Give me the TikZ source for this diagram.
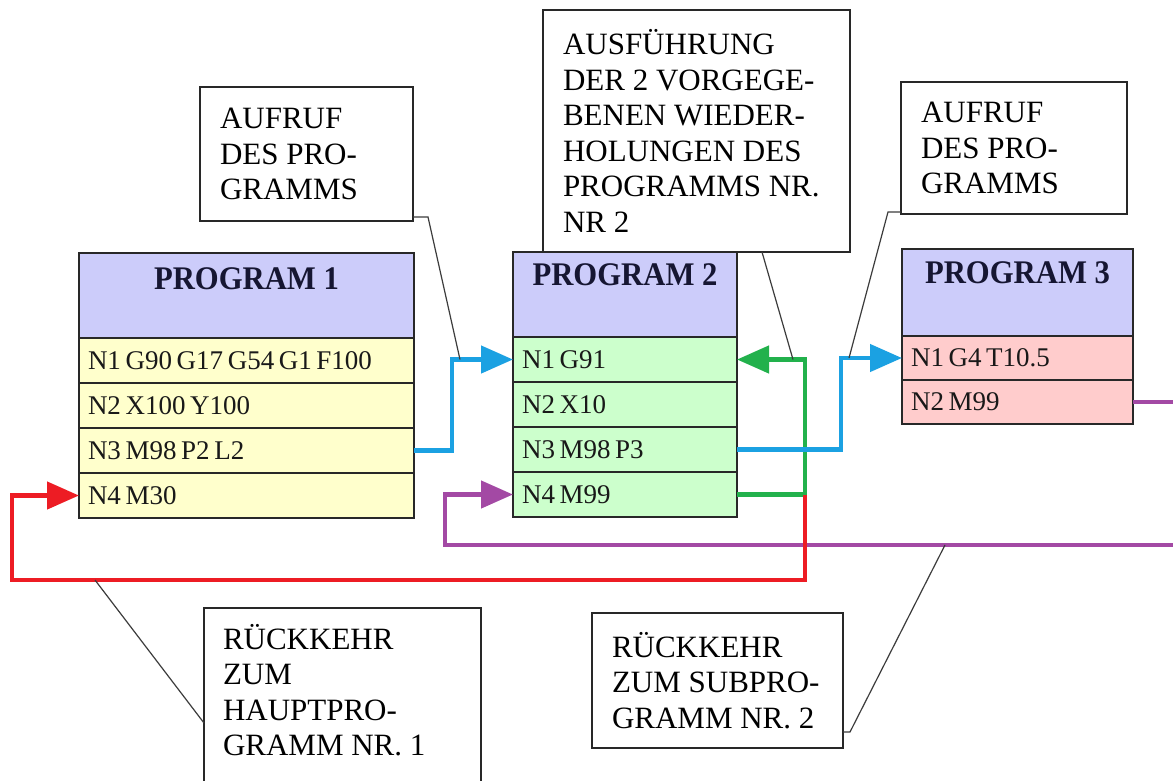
\documentclass[tikz,border=0pt]{standalone}
\usepackage{fontspec}
\setmainfont{Liberation Serif}
\newfontfamily\headfont[FakeStretch=0.93]{Liberation Serif}
\usetikzlibrary{arrows.meta}

% narrower word spaces for the program lines
\newcommand\tightspaces{\spaceskip=4.6pt plus 1pt\relax}

\definecolor{hdfill}{RGB}{204,204,250}
\definecolor{yelfill}{RGB}{255,255,204}
\definecolor{grnfill}{RGB}{204,255,204}
\definecolor{pnkfill}{RGB}{255,204,204}
\definecolor{cblue}{RGB}{27,161,226}
\definecolor{cgreen}{RGB}{34,177,76}
\definecolor{cred}{RGB}{237,28,36}
\definecolor{cpurple}{RGB}{163,73,164}
\definecolor{edgecol}{RGB}{40,40,40}
\definecolor{headink}{RGB}{22,22,50}
\definecolor{leadcol}{RGB}{60,60,60}

\begin{document}
\begin{tikzpicture}[x=1pt,y=-1pt,
  every node/.style={inner sep=0pt, outer sep=0pt},
  boxhead/.style={draw=edgecol, line width=1.4pt, fill=hdfill, anchor=north west, minimum height=85pt},
  headtext/.style={anchor=base, text=headink, font=\headfont\bfseries\fontsize{33}{33}\selectfont},
  rowbox/.style={draw=edgecol, line width=1.4pt, anchor=north west, minimum height=45pt},
  p1row/.style={rowbox, fill=yelfill, minimum width=335pt},
  p2row/.style={rowbox, fill=grnfill, minimum width=224pt},
  p3row/.style={rowbox, fill=pnkfill, minimum width=231pt, minimum height=44pt},
  rowtext/.style={anchor=west, font=\fontsize{27}{27}\selectfont, text=black!90},
  callout/.style={draw=edgecol, line width=1.3pt, fill=white, anchor=north west},
  calltext/.style={anchor=west, align=left, font=\fontsize{31}{35.5}\selectfont},
  conn/.style={line width=4.5pt},
  tip/.style={-{Triangle[length=32pt,width=27pt]}},
  leader/.style={draw=leadcol, line width=1.2pt}
]
\useasboundingbox (0,0) rectangle (1173,780);
\fill[white] (0,0) rectangle (1173,780);
\clip (0,0) rectangle (1173,780);

% ---- main program ----
\node[boxhead, minimum width=335pt] (p1h) at (79,253) {};
\node[headtext] (p1t) at (246.5,289) {PROGRAM 1};
\node[p1row] (p1r1) at (p1h.south west) {};
\node[p1row] (p1r2) at (p1r1.south west) {};
\node[p1row] (p1r3) at (p1r2.south west) {};
\node[p1row] (p1r4) at (p1r3.south west) {};
\node[rowtext] (p1l1) at ([xshift=9pt]p1r1.west) {\tightspaces N1 G90 G17 G54 G1 F100};
\node[rowtext] (p1l2) at ([xshift=9pt]p1r2.west) {\tightspaces N2 X100 Y100};
\node[rowtext] (p1l3) at ([xshift=9pt]p1r3.west) {\tightspaces N3 M98 P2 L2};
\node[rowtext] (p1l4) at ([xshift=9pt]p1r4.west) {\tightspaces N4 M30};

% ---- subprogram 2 ----
\node[boxhead, minimum width=224pt] (p2h) at (513,252) {};
\node[headtext] (p2t) at (625,285) {PROGRAM 2};
\node[p2row] (p2r1) at (p2h.south west) {};
\node[p2row] (p2r2) at (p2r1.south west) {};
\node[p2row] (p2r3) at (p2r2.south west) {};
\node[p2row] (p2r4) at (p2r3.south west) {};
\node[rowtext] (p2l1) at ([xshift=9pt]p2r1.west) {\tightspaces N1 G91};
\node[rowtext] (p2l2) at ([xshift=9pt]p2r2.west) {\tightspaces N2 X10};
\node[rowtext] (p2l3) at ([xshift=9pt]p2r3.west) {\tightspaces N3 M98 P3};
\node[rowtext] (p2l4) at ([xshift=9pt]p2r4.west) {\tightspaces N4 M99};

% ---- subprogram 3 ----
\node[boxhead, minimum width=231pt, minimum height=87pt] (p3h) at (902,249) {};
\node[headtext] (p3t) at (1017.5,283) {PROGRAM 3};
\node[p3row] (p3r1) at (p3h.south west) {};
\node[p3row] (p3r2) at (p3r1.south west) {};
\node[rowtext] (p3l1) at ([xshift=9pt]p3r1.west) {\tightspaces N1 G4 T10.5};
\node[rowtext] (p3l2) at ([xshift=9pt]p3r2.west) {\tightspaces N2 M99};

% ---- program flow ----
\coordinate (rl) at (12,580);
\coordinate (pr) at (1190,545);
\coordinate (pl) at (445,545);

% return from program 3 to program 2
\draw[conn, cpurple, tip] (p3r2.east) -| (pr) -- (pl) |- (p2r4.west);
% repetition loop inside program 2
\draw[conn, cgreen, tip] (p2r4.east) -- ++(68,0) coordinate (gc) |- (p2r1.east);
% return to the main program
\draw[conn, cred, tip] (gc) -- (gc |- rl) -- (rl) |- (p1r4.west);
% calls
\draw[conn, cblue, tip] (p1r3.east) -- ++(38,0) |- (p2r1.west);
\draw[conn, cblue, tip] (p2r3.east) -- ++(104,0) |- (p3r1.west);

% ---- callouts ----
\node[callout, minimum width=213pt, minimum height=134pt] (a1) at (200,87) {};
\node[calltext] (a1t) at ([xshift=20pt]a1.west) {AUFRUF\\DES PRO-\\GRAMMS};

\node[callout, minimum width=307pt, minimum height=242pt] (a2) at (543,10) {};
\node[calltext] (a2t) at ([xshift=20pt]a2.west) {AUSFÜHRUNG\\DER 2 VORGEGE-\\BENEN WIEDER-\\HOLUNGEN DES\\PROGRAMMS NR.\\NR 2};

\node[callout, minimum width=226pt, minimum height=132pt] (a3) at (901,82) {};
\node[calltext] (a3t) at ([xshift=20pt]a3.west) {AUFRUF\\DES PRO-\\GRAMMS};

\node[callout, minimum width=277pt, minimum height=200pt] (b1) at (204,608) {};
\node[calltext] (b1t) at (223,690) {RÜCKKEHR\\ZUM\\HAUPTPRO-\\GRAMM NR. 1};

\node[callout, minimum width=251pt, minimum height=135pt] (b2) at (592,613) {};
\node[calltext] (b2t) at ([xshift=20pt]b2.west) {RÜCKKEHR\\ZUM SUBPRO-\\GRAMM NR. 2};

% ---- leader lines ----
\draw[leader] (a1.east |- 0,217) -- (428,217) -- (460,0 |- p2r1.west);
\draw[leader] (762,0 |- a2.south) -- (793,0 |- p2r1.east);
\draw[leader] (a3.west |- 0,212) -- (888,212) -- (849,0 |- p3r1.west);
\draw[leader] (b1.west |- 0,723) -- (95,0 |- rl);
\draw[leader] (b2.east |- 0,732) -- (850,732) -- (945,0 |- pl);
\end{tikzpicture}
\end{document}
